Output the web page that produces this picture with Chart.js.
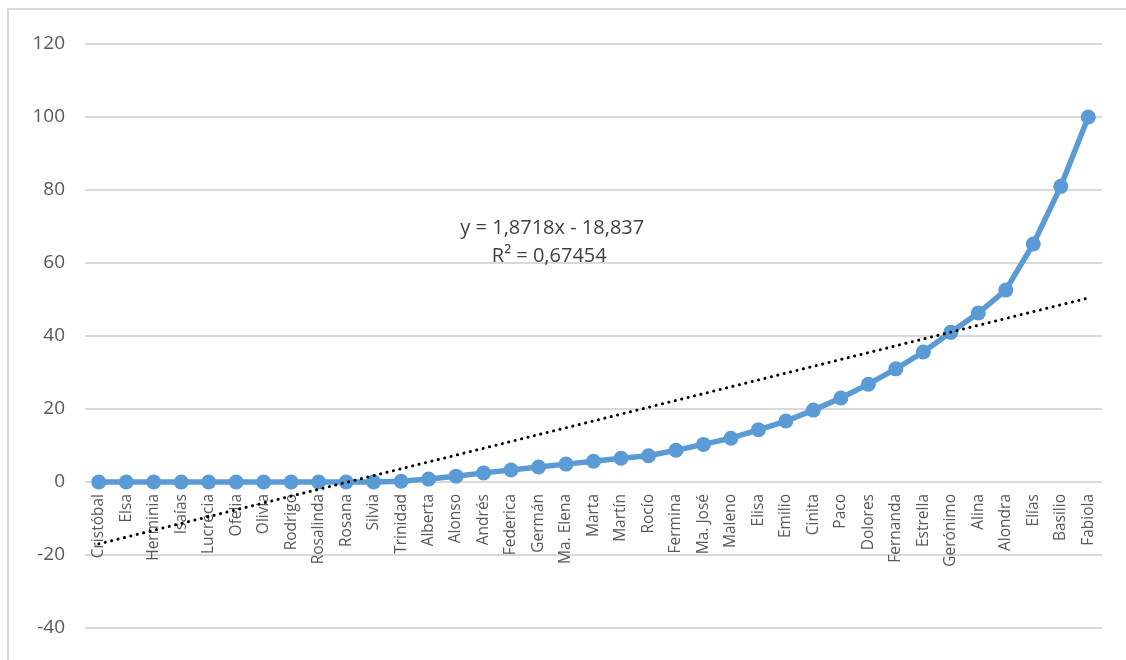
<!DOCTYPE html>
<html>
<head>
<meta charset="utf-8">
<script src="https://cdn.jsdelivr.net/npm/chart.js@4"></script>
<style>
  body { margin: 0; background: #fff; }
  #wrap { position: relative; width: 1126px; height: 660px; }
  #frame { position: absolute; left: 7px; top: 8px; width: 1130px; height: 660px;
           border-left: 2px solid #d9d9d9; border-top: 2px solid #d9d9d9; }
  canvas { position: absolute; left: 0; top: 0; }
</style>
</head>
<body>
<div id="wrap">
  <div id="frame"></div>
  <canvas id="myChart" width="1126" height="660"></canvas>
</div>
<script>
// names along the x axis
let names = ["Cristóbal", "Elsa", "Herminia", "Isaías", "Lucrecia", "Ofelia", "Olivia", "Rodrigo",
  "Rosalinda", "Rosana", "Silvia", "Trinidad", "Alberta", "Alonso", "Andrés", "Federica", "Germán",
  "Ma. Elena", "Marta", "Martín", "Rocío", "Fermina", "Ma. José", "Maleno", "Elisa", "Emilio",
  "Cinita", "Paco", "Dolores", "Fernanda", "Estrella", "Gerónimo", "Alina", "Alondra", "Elías",
  "Basilio", "Fabiola"];

// values
let values = [0, 0, 0, 0, 0, 0, 0, 0, 0, 0, 0, 0.2,
  0.8, 1.6, 2.5, 3.3, 4.1, 4.9, 5.7, 6.5, 7.2, 8.7, 10.3, 12,
  14.3, 16.7, 19.7, 23, 26.8, 31, 35.6, 41, 46.3, 52.6, 65.2, 81, 100];

// linear trendline as printed on the chart
let trendSlope = 1.8718;
let trendIntercept = -18.837;
let trendLabel = ["y = 1,8718x - 18,837", "R² = 0,67454"];

let yTicks = { min: -40, max: 120, step: 20 };

let trend = names.map((n, i) => trendSlope * (i + 1) + trendIntercept);

// draws the trendline equation
const equationText = {
  id: 'equationText',
  afterDatasetsDraw(chart) {
    const ctx = chart.ctx;
    const x = chart.scales.x.getPixelForValue(16.5);
    const y = chart.scales.y.getPixelForValue(69.4);
    ctx.save();
    ctx.font = '20px "Open Sans", sans-serif';
    ctx.fillStyle = '#404040';
    ctx.textAlign = 'center';
    ctx.textBaseline = 'middle';
    ctx.fillText(trendLabel[0], x, y);
    ctx.fillText(trendLabel[1], x - 3, y + 28);
    ctx.restore();
  }
};

let ctx = document.getElementById('myChart').getContext('2d');

let myChart = new Chart(ctx, {
  type: 'line',
  data: {
    labels: names,
    datasets: [
      {
        data: values,
        borderColor: '#5b9bd5',
        backgroundColor: '#5b9bd5',
        borderWidth: 5.5,
        pointRadius: 7.5,
        pointBorderWidth: 0,
        tension: 0,
        order: 1
      },
      {
        data: trend,
        borderColor: '#000',
        borderWidth: 3,
        borderDash: [0.1, 6.5],
        borderCapStyle: 'round',
        pointRadius: 0,
        fill: false,
        order: 0
      }
    ]
  },
  options: {
    responsive: false,
    animation: false,
    layout: {
      padding: { top: 44, right: 24, bottom: 32, left: 0 }
    },
    plugins: {
      legend: { display: false },
      tooltip: { enabled: false }
    },
    scales: {
      x: {
        position: { y: 0 },
        offset: true,
        grid: { display: false, offset: true },
        border: { display: false },
        ticks: {
          autoSkip: false,
          minRotation: 90,
          maxRotation: 90,
          padding: 4,
          color: '#595959',
          font: { family: '"Open Sans", sans-serif', size: 15.5 }
        }
      },
      y: {
        min: yTicks.min,
        max: yTicks.max,
        afterFit(scale) { scale.width = 85; },
        grid: { color: '#d9d9d9', lineWidth: 2, drawTicks: false },
        border: { display: false },
        ticks: {
          stepSize: yTicks.step,
          padding: 20,
          color: '#595959',
          font: { family: '"Open Sans", sans-serif', size: 19 }
        }
      }
    }
  },
  plugins: [equationText]
});
</script>
</body>
</html>
